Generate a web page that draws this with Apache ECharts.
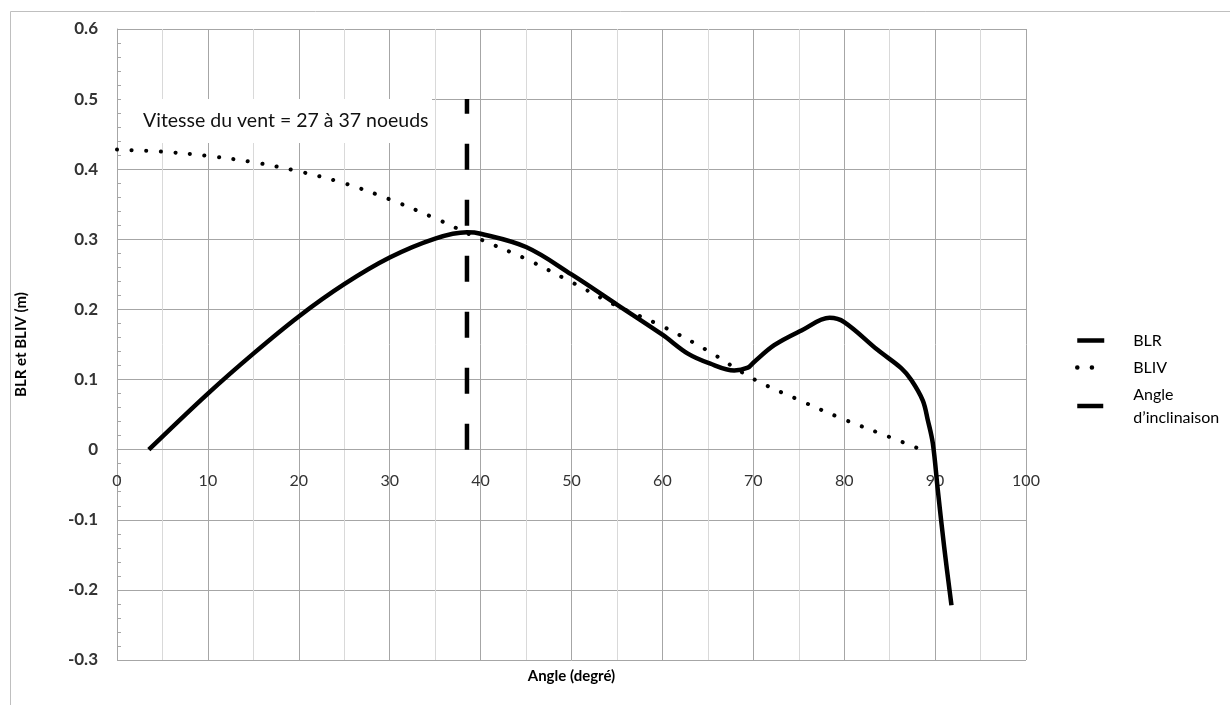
<!DOCTYPE html>
<html lang="fr">
<head>
<meta charset="UTF-8" />
<title>BLR et BLIV</title>
<script src="https://cdn.jsdelivr.net/npm/echarts@6/dist/echarts.min.js"></script>
<style>
  html, body { margin: 0; padding: 0; background: #fff; }
  #main { width: 1230px; height: 705px; }
</style>
</head>
<body>
<div id="main"></div>
<script>
// BLR (courbe pleine)
var blrAngle = [3.5, 10, 15, 20, 25, 30, 35, 38.5, 40, 45, 50, 55, 60, 62.8, 65.2, 67.9, 69.4, 70, 72.3, 75.3, 78.4, 80, 83.7, 86.3, 87.4, 88.65, 89.2, 89.75, 90.3, 91.0, 91.8];
var blrValue = [0, 0.08, 0.137, 0.19, 0.236, 0.274, 0.301, 0.31, 0.308, 0.289, 0.25, 0.207, 0.164, 0.137, 0.123, 0.113, 0.117, 0.124, 0.149, 0.170, 0.188, 0.182, 0.142, 0.116, 0.099, 0.070, 0.042, 0.009, -0.058, -0.139, -0.222];

// BLIV (pointillés)
var blivAngle = [0, 5, 10, 15, 20, 25, 30, 35, 40, 45, 50, 55, 60, 65, 70, 75, 80, 85, 88.5];
var blivValue = [0.428, 0.425, 0.419, 0.41, 0.397, 0.38, 0.357, 0.33, 0.3, 0.272, 0.239, 0.205, 0.176, 0.141, 0.101, 0.071, 0.043, 0.018, 0.0];

// angle d'inclinaison (trait vertical)
var inclAngle = [38.5, 38.5];
var inclValue = [0, 0.5];

// axes
var xMin = 0, xMax = 100, xStep = 10;
var yMin = -0.3, yMax = 0.6, yStep = 0.1;

var seriesNames = ["BLR", "BLIV", "Angle d’inclinaison"];
var note = "Vitesse du vent = 27 à 37 noeuds";

function pairs(xs, ys) {
  return xs.map(function (x, i) { return [x, ys[i]]; });
}

var font = "Lato, 'Liberation Sans', sans-serif";
var gridColor = "#a6a6a6";

// hauteur du graphe et position du zéro (axe X au niveau y = 0)
var gridTop = 29, gridBottom = 45, chartH = 705;
var plotH = chartH - gridTop - gridBottom;
var zeroShift = plotH * (0 - yMin) / (yMax - yMin);

var myChart = echarts.init(document.getElementById("main"));

var option = {
  animation: false,
  backgroundColor: "#fff",
  grid: { left: 117, right: 204, top: gridTop, bottom: gridBottom, outerBoundsMode: "none", containLabel: false },
  legend: {
    orient: "vertical",
    left: 1070,
    top: 324,
    itemGap: 4,
    itemWidth: 27,
    itemHeight: 14,
    data: seriesNames,
    itemStyle: { color: "rgba(0,0,0,0)", borderWidth: 0, opacity: 0 },
    lineStyle: { width: 4.5 },
    formatter: function (name) {
      return name === seriesNames[2] ? "Angle\nd’inclinaison" : name;
    },
    textStyle: {
      fontFamily: font,
      fontSize: 16,
      lineHeight: 23,
      color: "#000",
      padding: [0, 0, 0, 24],
    },
  },
  xAxis: {
    type: "value",
    min: xMin,
    max: xMax,
    interval: xStep,
    offset: -zeroShift,
    name: "Angle (degré)",
    nameLocation: "middle",
    nameGap: zeroShift + 9,
    nameTextStyle: { fontFamily: font, fontSize: 15, fontWeight: "bold", color: "#000" },
    axisLine: { onZero: false, lineStyle: { color: gridColor } },
    axisTick: { show: false },
    axisLabel: { fontFamily: font, fontSize: 16, color: "#333", margin: 23 },
    splitLine: { show: true, lineStyle: { color: gridColor } },
    minorTick: { show: false, splitNumber: 2 },
    minorSplitLine: { show: true, lineStyle: { color: "#d9d9d9" } },
  },
  yAxis: {
    type: "value",
    min: yMin,
    max: yMax,
    interval: yStep,
    name: "BLR et BLIV (m)",
    nameLocation: "middle",
    nameGap: 88,
    nameTextStyle: { fontFamily: font, fontSize: 15, fontWeight: "bold", color: "#000" },
    axisLine: { show: true, onZero: false, lineStyle: { color: gridColor } },
    axisTick: { show: true, inside: true, length: 5, lineStyle: { color: gridColor } },
    minorTick: { show: true, splitNumber: 5, length: 4, lineStyle: { color: gridColor } },
    axisLabel: {
      fontFamily: font,
      fontSize: 17,
      fontWeight: "bold",
      color: "#333",
      margin: 19,
      formatter: function (v) { return String(+v.toFixed(1)); },
    },
    splitLine: { show: true, lineStyle: { color: gridColor } },
  },
  graphic: [
    {
      type: "rect",
      left: 8, top: 9,
      shape: { width: 1300, height: 800 },
      style: { fill: "none", stroke: "#bfbfbf", lineWidth: 1 },
      silent: true,
    },
    {
      type: "rect",
      left: 121, top: 99,
      shape: { width: 311, height: 44 },
      style: { fill: "#fff" },
      z: 5,
      silent: true,
    },
    {
      type: "text",
      left: 143, top: 111,
      style: { text: note, fontFamily: font, fontSize: 19.5, fill: "#111" },
      z: 6,
      silent: true,
    },
  ],
  series: [
    {
      name: seriesNames[0],
      type: "line",
      smooth: 0.35,
      symbol: "none",
      lineStyle: { color: "#000", width: 4.5 },
      itemStyle: { color: "#000" },
      data: pairs(blrAngle, blrValue),
      z: 4,
    },
    {
      name: seriesNames[1],
      type: "line",
      smooth: 0.35,
      symbol: "none",
      lineStyle: { color: "#000", width: 4, type: [0.1, 14.5], cap: "round" },
      itemStyle: { color: "#000" },
      data: pairs(blivAngle, blivValue),
      z: 3,
    },
    {
      name: seriesNames[2],
      type: "line",
      symbol: "none",
      lineStyle: { color: "#000", width: 4.5, type: [26, 30] },
      itemStyle: { color: "#000" },
      data: pairs(inclAngle, inclValue),
      z: 3,
    },
  ],
};

myChart.setOption(option);
</script>
</body>
</html>
